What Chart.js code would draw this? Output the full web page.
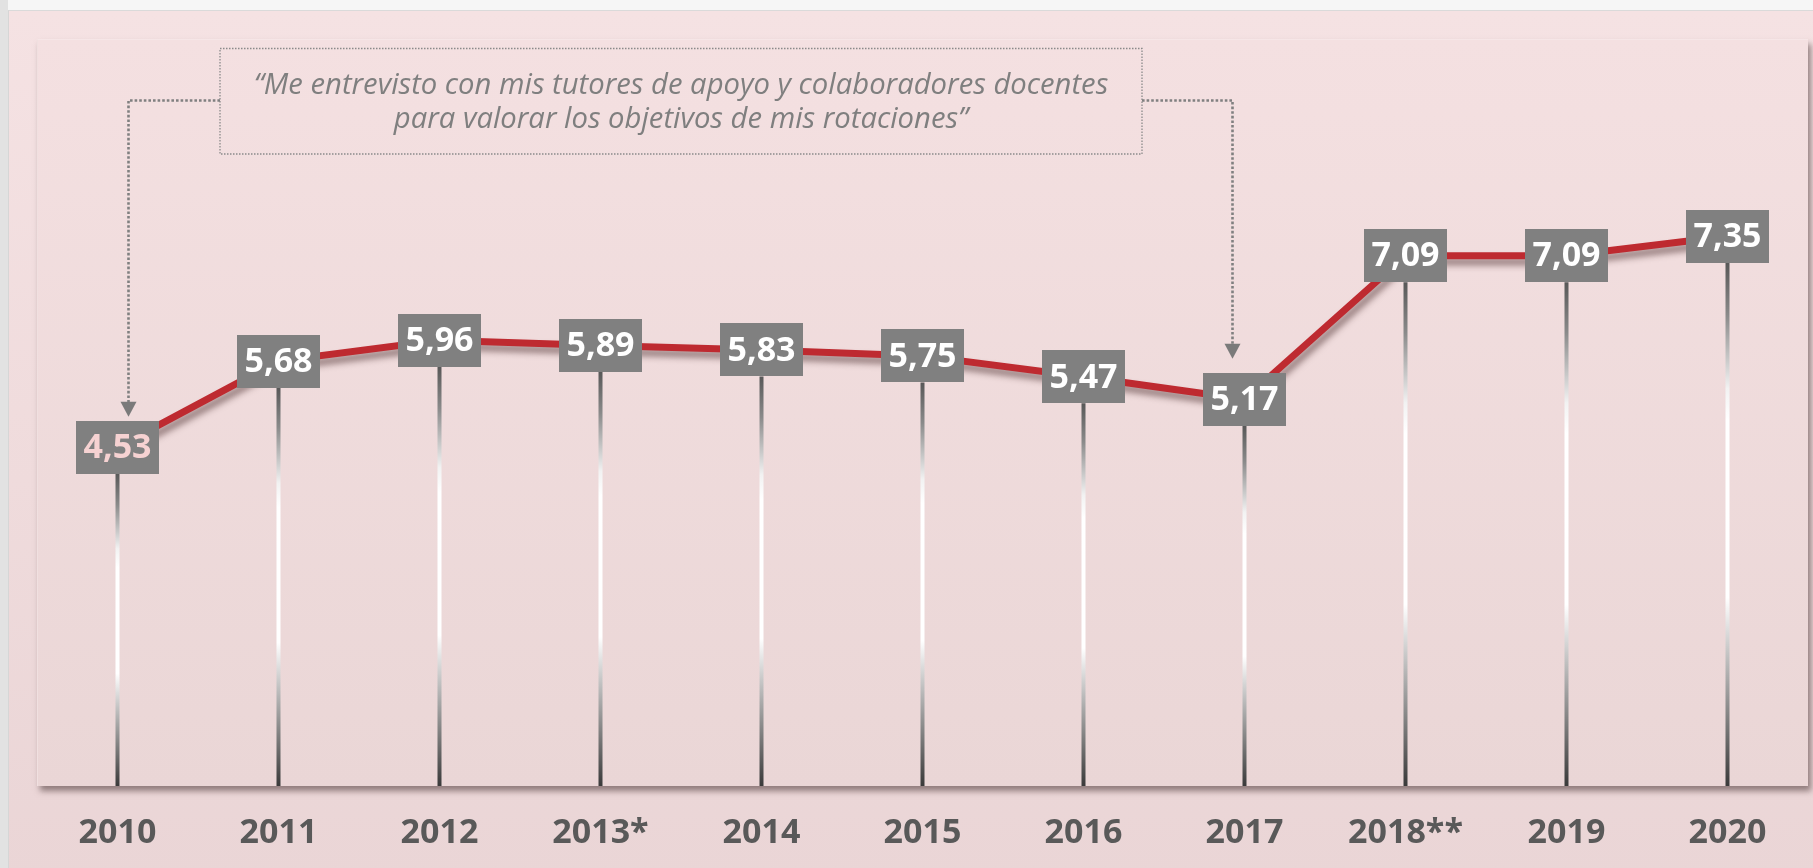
<!DOCTYPE html>
<html><head><meta charset="utf-8">
<script src="https://cdn.jsdelivr.net/npm/chart.js@4.4.0/dist/chart.umd.min.js"></script>
<style>
html,body{margin:0;padding:0;background:#f4f4f4;overflow:hidden}
#wrap{position:absolute;left:0;top:0;width:1813px;height:868px;background:linear-gradient(90deg,#e2e2e2 0,#e2e2e2 8px,#f6f6f6 8px)}
#panel{position:absolute;left:8px;top:10px;width:1820px;height:870px;box-sizing:border-box;border-left:1px solid #d6d6d6;border-top:1px solid #dadada;background:linear-gradient(#f5e2e3,#ead5d6)}
#plot{position:absolute;left:37px;top:39px;width:1771px;height:747px;background:linear-gradient(#f4e0e1,#ead6d6);box-shadow:3px 5px 6px rgba(70,50,50,0.55);border-top:1px solid #f6e6e7;border-left:1px solid #f0e0e0;box-sizing:border-box}
canvas{position:absolute;left:0;top:0}
</style></head><body>
<div id="wrap"><div id="panel"></div><div id="plot"></div><canvas id="c" width="1813" height="868"></canvas></div>
<script>
const categories = ['2010','2011','2012','2013*','2014','2015','2016','2017','2018**','2019','2020'];
const scores = [4.53, 5.68, 5.96, 5.89, 5.83, 5.75, 5.47, 5.17, 7.09, 7.09, 7.35];
const valueLabels = ['4,53','5,68','5,96','5,89','5,83','5,75','5,47','5,17','7,09','7,09','7,35'];
const annotationLines = ['\u201CMe entrevisto con mis tutores de apoyo y colaboradores docentes', 'para valorar los objetivos de mis rotaciones\u201D'];
const annotationTargets = [0, 7];
const yRange = [0, 10];

const BOX_W = 83, BOX_H = 53;

const dropLines = {
  id: 'dropLines',
  beforeDatasetsDraw(chart) {
    const {ctx, chartArea} = chart;
    const meta = chart.getDatasetMeta(0);
    ctx.save();
    meta.data.forEach(pt => {
      const y0 = pt.y + BOX_H / 2, y1 = chartArea.bottom;
      const g = ctx.createLinearGradient(0, y0, 0, y1);
      g.addColorStop(0, '#585858');
      g.addColorStop(0.1, '#8a8a8a');
      g.addColorStop(0.24, '#f2f2f2');
      g.addColorStop(0.3, '#ffffff');
      g.addColorStop(0.64, '#ffffff');
      g.addColorStop(0.74, '#c8c8c8');
      g.addColorStop(1, '#3a3a3a');
      ctx.strokeStyle = g;
      ctx.lineWidth = 4;
      ctx.beginPath();
      ctx.moveTo(pt.x, y0);
      ctx.lineTo(pt.x, y1);
      ctx.stroke();
    });
    ctx.restore();
  },
  beforeDatasetDraw(chart) {
    const ctx = chart.ctx;
    ctx.save();
    ctx.shadowColor = 'rgba(60,30,30,0.5)';
    ctx.shadowBlur = 6;
    ctx.shadowOffsetX = 3;
    ctx.shadowOffsetY = 6;
  },
  afterDatasetDraw(chart) { chart.ctx.restore(); },
  afterDatasetsDraw(chart) {
    const {ctx} = chart;
    const meta = chart.getDatasetMeta(0);
    ctx.save();
    ctx.font = 'bold 34px "Open Sans"';
    ctx.textAlign = 'center';
    ctx.textBaseline = 'middle';
    meta.data.forEach((pt, i) => {
      ctx.fillStyle = '#808080';
      ctx.fillRect(Math.round(pt.x - BOX_W / 2), Math.round(pt.y - BOX_H / 2), BOX_W, BOX_H);
      ctx.fillStyle = i === 0 ? '#f6d2d2' : '#ffffff';
      ctx.fillText(valueLabels[i], pt.x, pt.y + 1);
    });
    // annotation
    const boxL = 220, boxT = 48.5, boxR = 1142, boxB = 154;
    ctx.strokeStyle = '#8a8a8a';
    ctx.lineWidth = 1.3;
    ctx.setLineDash([1.5, 1.5]);
    ctx.strokeRect(boxL, boxT, boxR - boxL, boxB - boxT);
    ctx.fillStyle = '#7f7f7f';
    ctx.font = 'italic 30px "Open Sans"';
    ctx.textBaseline = 'middle';
    const cx = (boxL + boxR) / 2;
    ctx.save();
    ctx.translate(cx, 0);
    ctx.scale(0.975, 1);
    ctx.fillText(annotationLines[0], 0, 85);
    ctx.fillText(annotationLines[1], 0, 119);
    ctx.restore();
    // connectors
    ctx.strokeStyle = '#808080';
    ctx.lineWidth = 2.6;
    ctx.setLineDash([2.6, 2]);
    const p0 = meta.data[annotationTargets[0]], p1 = meta.data[annotationTargets[1]];
    const ax0 = p0.x + 11, ax1 = p1.x - 12;
    const tip0 = p0.y - BOX_H / 2 - 4, tip1 = p1.y - BOX_H / 2 - 14;
    const hy = 100.5;
    ctx.beginPath();
    ctx.moveTo(boxL, hy); ctx.lineTo(ax0, hy); ctx.lineTo(ax0, tip0 - 14);
    ctx.moveTo(boxR, hy); ctx.lineTo(ax1, hy); ctx.lineTo(ax1, tip1 - 14);
    ctx.stroke();
    ctx.setLineDash([]);
    ctx.fillStyle = '#7a7a7a';
    [[ax0, tip0], [ax1, tip1]].forEach(([x, y]) => {
      ctx.beginPath();
      ctx.moveTo(x - 8, y - 15); ctx.lineTo(x + 8, y - 15); ctx.lineTo(x, y);
      ctx.closePath(); ctx.fill();
    });
    ctx.restore();
  }
};

new Chart(document.getElementById('c'), {
  type: 'line',
  data: {
    labels: categories,
    datasets: [{
      data: scores,
      borderColor: '#be2a30',
      borderWidth: 7,
      pointRadius: 0,
      tension: 0,
      fill: false
    }]
  },
  options: {
    responsive: false,
    animation: false,
    devicePixelRatio: 1,
    layout: {padding: {left: 37, right: 5, top: 38, bottom: 0}},
    plugins: {legend: {display: false}, tooltip: {enabled: false}},
    scales: {
      x: {
        offset: true,
        grid: {display: false, drawTicks: false},
        border: {display: false},
        ticks: {color: '#595959', font: {family: 'Open Sans', weight: 'bold', size: 34}, padding: 27},
        afterFit(scale) { scale.height = 82; }
      },
      y: {display: false, min: yRange[0], max: yRange[1]}
    }
  },
  plugins: [dropLines]
});
</script>
</body></html>
